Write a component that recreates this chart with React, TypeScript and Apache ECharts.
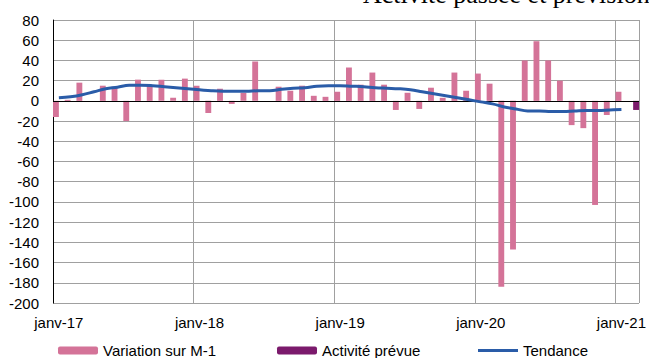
import { useEffect, useRef } from "react";
import * as echarts from "echarts";

// Monthly axis: janv-17 … févr-21
const monthNames = ["janv", "févr", "mars", "avr", "mai", "juin", "juil", "août", "sept", "oct", "nov", "déc"];
const years = ["17", "18", "19", "20", "21"];
const allMonths: string[] = [];
years.forEach((y) => monthNames.forEach((m) => allMonths.push(`${m}-${y}`)));
const categories = allMonths.slice(0, 50);

// Variation sur M-1 (janv-17 … janv-21)
const variation: (number | null)[] = [
  -16, 1, 18, 0, 15, 14, -20, 21, 15, 21, 3, 22,
  15, -12, 12, -3, 8, 39, 0, 14, 10, 15, 5, 4,
  9, 33, 16, 28, 16, -9, 8, -8, 13, 3, 28, 10,
  27, 17, -184, -147, 40, 59, 40, 20, -24, -27, -103, -14,
  9, null,
];

// Activité prévue (févr-21 only)
const prevue: (number | null)[] = [
  ...Array(49).fill(null),
  -9,
];

// Tendance (smoothed trend)
const tendance: (number | null)[] = [
  3, 4, 6, 9, 12, 13.5, 15.5, 15.5, 15, 14, 13, 12,
  11, 10, 9.5, 9.5, 9.5, 10, 10, 11.5, 12.5, 13, 14.5, 15,
  15, 14.5, 14, 13, 12.5, 12, 11, 9, 7, 5, 3, 1,
  -1, -3, -6, -8, -10, -10, -10.5, -10.5, -10, -9.5, -9.5, -9,
  -8.5, null,
];

const yMin = -200;
const yMax = 80;
const yStep = 20;

const FONT = "'Liberation Sans', Arial, sans-serif";
const TREND_COLOR = "#2a5ca8";

export default function App() {
  const ref = useRef<HTMLDivElement>(null);

  useEffect(() => {
    if (!ref.current) return;
    const chart = echarts.init(ref.current, undefined, { renderer: "svg" });
    const legendText = { color: "#000", fontFamily: FONT, fontSize: 15 };
    chart.setOption({
      animation: false,
      backgroundColor: "#fff",
      textStyle: { fontFamily: FONT },
      graphic: [
        {
          type: "text",
          x: 363,
          y: -6,
          style: {
            text: "Activité passée et prévisionnelle",
            font: "26px 'Liberation Serif', 'Times New Roman', serif",
            fill: "#000",
            verticalAlign: "middle",
          },
        },
      ],
      grid: { left: 53, right: 7.5, top: 20, bottom: 55, containLabel: false },
      legend: [
        {
          left: 53, top: 338, itemWidth: 40, itemHeight: 8, itemGap: 5,
          textStyle: legendText, data: ["Variation sur M-1"],
        },
        {
          left: 272, top: 338, itemWidth: 40, itemHeight: 8, itemGap: 5,
          textStyle: legendText, data: ["Activité prévue"],
        },
        {
          left: 473, top: 338, itemWidth: 40, itemHeight: 3, itemGap: 5,
          textStyle: legendText,
          data: [{ name: "Tendance", icon: "rect" }],
        },
      ],
      xAxis: {
        type: "category",
        data: categories,
        boundaryGap: true,
        axisLine: { show: false },
        axisTick: { show: false },
        axisLabel: {
          interval: 11,
          color: "#000",
          fontSize: 15,
          fontFamily: FONT,
          margin: 12,
        },
        splitLine: {
          show: true,
          interval: 11,
          lineStyle: { color: "#a0a0a0", width: 1 },
        },
      },
      yAxis: {
        type: "value",
        min: yMin,
        max: yMax,
        interval: yStep,
        axisLine: { show: true, lineStyle: { color: "#000", width: 1 } },
        axisTick: { show: false },
        axisLabel: { color: "#000", fontSize: 15, fontFamily: FONT, margin: 14 },
        splitLine: { show: true, lineStyle: { color: "#a0a0a0", width: 1 } },
      },
      series: [
        {
          name: "Variation sur M-1",
          type: "bar",
          data: variation,
          barGap: "0%",
          barCategoryGap: "0%",
          itemStyle: { color: "#d47398" },
          markLine: {
            silent: true,
            symbol: "none",
            label: { show: false },
            lineStyle: { color: "#000", width: 1.2, type: "solid" },
            data: [{ yAxis: 0 }],
          },
        },
        {
          name: "Activité prévue",
          type: "bar",
          data: prevue,
          barGap: "0%",
          barCategoryGap: "0%",
          itemStyle: { color: "#7b1a6c" },
        },
        {
          name: "Tendance",
          type: "line",
          data: tendance,
          smooth: 0.4,
          symbol: "none",
          lineStyle: { color: TREND_COLOR, width: 3 },
          itemStyle: { color: TREND_COLOR },
          z: 5,
        },
      ],
    });
    return () => chart.dispose();
  }, []);

  return (
    <div
      ref={ref}
      style={{ position: "fixed", left: 0, top: 0, width: 649, height: 358 }}
    />
  );
}
